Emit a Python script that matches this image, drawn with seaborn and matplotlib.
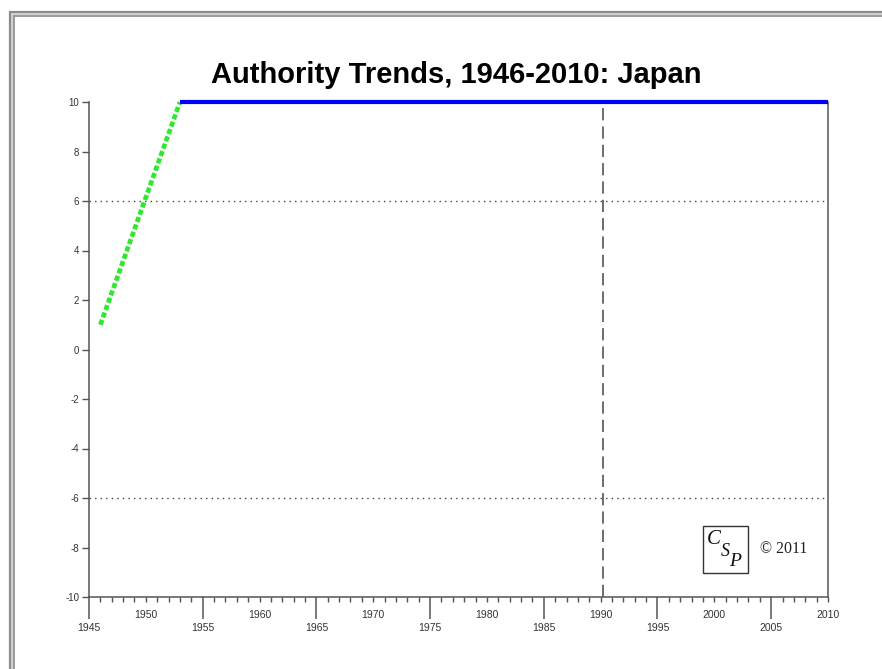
import matplotlib
matplotlib.use("Agg")
import matplotlib.pyplot as plt
from matplotlib.lines import Line2D
from matplotlib.patches import Rectangle
import seaborn as sns
import pandas as pd

# ---- data ----
transition_years = [1946, 1953]
transition_values = [1, 10]
polity_years = [1953, 2010]
polity_values = [10, 10]
threshold_values = [6, -6]
marker_year = 1990.2
yticks = [-10, -8, -6, -4, -2, 0, 2, 4, 6, 8, 10]
xtick_upper = [1950, 1960, 1970, 1980, 1990, 2000, 2010]
xtick_lower = [1945, 1955, 1965, 1975, 1985, 1995, 2005]
minor_years = list(range(1945, 2011))
title = "Authority Trends, 1946-2010: Japan"

sns.set_style("white")
plt.rcParams['font.family'] = ['Liberation Sans', 'DejaVu Sans']

W, H = 882, 669
fig = plt.figure(figsize=(W / 100, H / 100), dpi=100)
L, R, T, B = 89, 828, 102, 597
ax = fig.add_axes([L / W, 1 - B / H, (R - L) / W, (B - T) / H])

df_t = pd.DataFrame({"year": transition_years, "value": transition_values})
df_p = pd.DataFrame({"year": polity_years, "value": polity_values})

for yv in threshold_values:
    ax.axhline(yv, color="#444444", lw=1.0, linestyle=(0, (1, 3)), zorder=1)
ax.axvline(marker_year, color="#444444", lw=1.1, linestyle=(0, (8, 4)), zorder=1)

sns.lineplot(data=df_t, x="year", y="value", ax=ax, color="#2ee82e",
             lw=3.4, linestyle=(0, (1.1, 0.55)), clip_on=False, zorder=3)
sns.lineplot(data=df_p, x="year", y="value", ax=ax, color="#0000ff",
             lw=3.0, clip_on=False, zorder=4, solid_capstyle="butt")

ax.set_xlim(1945, 2010)
ax.set_ylim(-10, 10)
ax.set_xlabel("")
ax.set_ylabel("")

# spines
for s in ["left", "bottom", "right"]:
    ax.spines[s].set_visible(True)
    ax.spines[s].set_color("#555555")
    ax.spines[s].set_linewidth(1.1)
ax.spines["top"].set_visible(False)

# y ticks
ax.set_yticks(yticks)
ax.set_yticklabels([str(v) for v in yticks])
ax.tick_params(axis="y", direction="out", length=5, width=1, color="#555555",
               labelsize=7, labelcolor="#333333", pad=2, left=True)

# x ticks: long ticks at lower-labelled years, short elsewhere
ax.set_xticks(xtick_lower)
ax.set_xticklabels([])
ax.set_xticks(minor_years, minor=True)
ax.tick_params(axis="x", which="major", direction="out", length=16, width=1.1,
               color="#555555", bottom=True)
ax.tick_params(axis="x", which="minor", direction="out", length=3.5, width=1,
               color="#555555", bottom=True)

tr = ax.get_xaxis_transform()
for yr in xtick_upper:
    ax.text(yr, (B - 615) / (B - T), str(yr), transform=tr, ha="center",
            va="center", fontsize=7.5, color="#333333")
for yr in xtick_lower:
    ax.text(yr, (B - 628) / (B - T), str(yr), transform=tr, ha="center",
            va="center", fontsize=7.5, color="#333333")

# title
fig.text(456 / W, 1 - 83 / H, title, ha="center", va="baseline",
         fontsize=21, fontweight="bold", color="black")

# logo box
def ax_frac(px, py):
    return (px - L) / (R - L), (B - py) / (B - T)

x0, y0 = ax_frac(703, 573)
x1, y1 = ax_frac(748, 526)
ax.add_patch(Rectangle((x0, y0), x1 - x0, y1 - y0, transform=ax.transAxes,
                       fill=False, edgecolor="#333333", lw=1, zorder=5))
for ch, (px, py), fs in [("C", (714, 539), 15), ("S", (725, 552), 13), ("P", (735, 562), 14)]:
    xf, yf = ax_frac(px, py)
    ax.text(xf, yf, ch, transform=ax.transAxes, ha="center", va="center",
            fontsize=fs, fontstyle="italic", family=["Liberation Serif"],
            color="#111111")
xf, yf = ax_frac(760, 549)
ax.text(xf, yf, "\u00a9 2011", transform=ax.transAxes, ha="left", va="center",
        fontsize=11.5, family=["Liberation Serif"], color="#222222")

# outer frame (left and top visible)
def fl(xs, ys, color, lw):
    fig.add_artist(Line2D([x / W for x in xs], [1 - y / H for y in ys],
                          color=color, lw=lw, transform=fig.transFigure))

fl([9.5, W], [12, 12], "#8a8a8a", 1.6)
fl([10, 10], [12, H], "#8a8a8a", 1.6)
fl([12, W], [14, 14], "#cfcfcf", 1.5)
fl([12, 12], [14, H], "#cfcfcf", 1.5)
fl([14, W], [16, 16], "#9a9a9a", 1.4)
fl([14, 14], [16, H], "#9a9a9a", 1.4)

fig.savefig("out.png", dpi=100)
